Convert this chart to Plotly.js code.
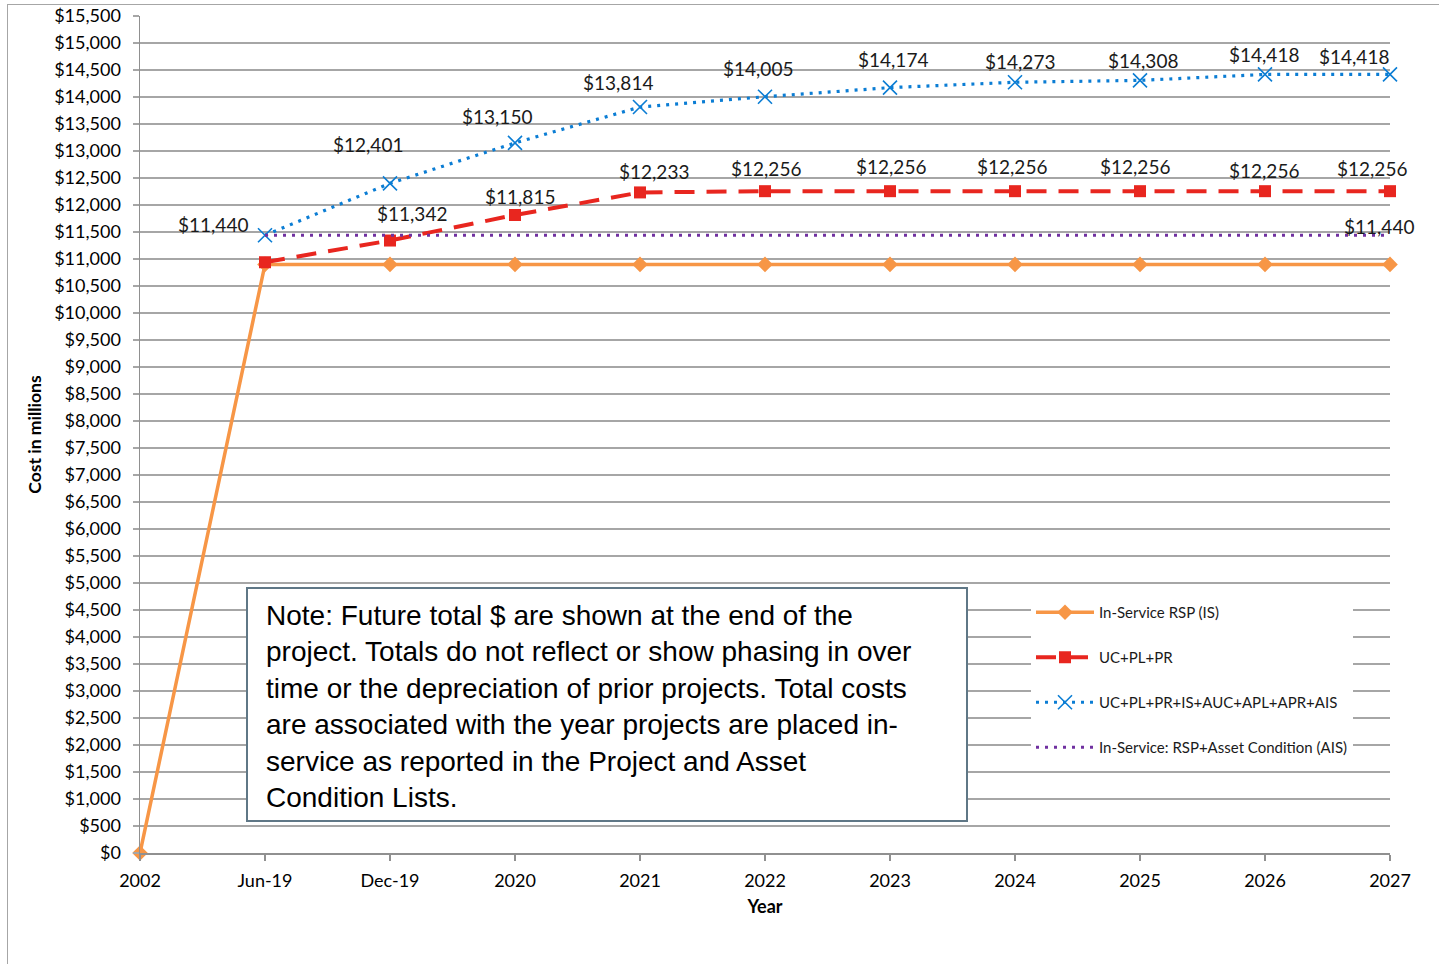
<!DOCTYPE html>
<html>
<head>
<meta charset="utf-8">
<script src="https://cdn.plot.ly/plotly-3.0.1.min.js"></script>
<style>
  html, body { margin:0; padding:0; background:#fff; }
  #chart { width:1439px; height:964px; position:relative; }
  #frame { position:absolute; left:7px; top:4px; width:1440px; height:970px; border-left:1.5px solid #a6a6a6; border-top:1.5px solid #a6a6a6; pointer-events:none; }
</style>
</head>
<body>
<div id="chart"></div>
<div id="frame"></div>
<script>
// ---- data ----
const categories = ["2002","Jun-19","Dec-19","2020","2021","2022","2023","2024","2025","2026","2027"];
const inServiceRSP = [0, 10900, 10900, 10900, 10900, 10900, 10900, 10900, 10900, 10900, 10900];
const ucPlPr = [null, 10940, 11342, 11815, 12233, 12256, 12256, 12256, 12256, 12256, 12256];
const ucPlPrAll = [null, 11440, 12401, 13150, 13814, 14005, 14174, 14273, 14308, 14418, 14418];
const inServiceAIS = [null, 11440, 11440, 11440, 11440, 11440, 11440, 11440, 11440, 11440, 11440];
const seriesNames = ["In-Service RSP (IS)", "UC+PL+PR", "UC+PL+PR+IS+AUC+APL+APR+AIS", "In-Service: RSP+Asset Condition (AIS)"];
const noteText = "Note: Future total $ are shown at the end of the<br>project. Totals do not reflect or show phasing in over<br>time or the depreciation of prior projects. Total costs<br>are associated with the year projects are placed in-<br>service as reported in the Project and Asset<br>Condition Lists.";

// which points carry a data label
const blueLabelIdx = [1,2,3,4,5,6,7,8,9,10];
const redLabelIdx = [2,3,4,5,6,7,8,9,10];
const purpleLabelIdx = [10];

// label offsets (px) [dx, dy] from the point to the label centre
const blueOff = {1:[-52,11],2:[-22,39],3:[-18,26],4:[-22,25],5:[-7,28],6:[3,28],7:[5,21],8:[3,20],9:[-1,20],10:[-36,18]};
const redOff = {2:[22,27],3:[5,18],4:[14,21],5:[1,23],6:[1,25],7:[-3,25],8:[-5,25],9:[-1,21],10:[-18,23]};
const purpleOff = {10:[-11,9]};

const fmt = v => "$" + v.toLocaleString("en-US");

const font = "Lato, 'Open Sans', sans-serif";

const traces = [
  {
    x: categories, y: inServiceRSP, name: seriesNames[0], type: "scatter", mode: "lines+markers",
    line: {color: "#f79646", width: 3.5},
    marker: {symbol: "diamond", size: 12, color: "#f79646"},
    cliponaxis: false, legendgroup: "a"
  },
  {
    x: categories, y: ucPlPr, name: seriesNames[1], type: "scatter", mode: "lines+markers",
    line: {color: "#e8261f", width: 4, dash: "20px,12px"},
    marker: {symbol: "square", size: 12, color: "#e8261f"},
    cliponaxis: false, legendgroup: "b"
  },
  {
    x: categories, y: ucPlPrAll, name: seriesNames[2], type: "scatter", mode: "lines+markers",
    line: {color: "#0b7dd4", width: 3.2, dash: "3px,6px"},
    marker: {symbol: "x-thin-open", size: 14, color: "#0b7dd4", line: {color: "#0b7dd4", width: 1.6}},
    cliponaxis: false, legendgroup: "c"
  },
  {
    x: categories, y: inServiceAIS, name: seriesNames[3], type: "scatter", mode: "lines",
    line: {color: "#7030a0", width: 3.2, dash: "3px,6px"},
    cliponaxis: false, legendgroup: "d"
  }
];

const annotations = [];
function addLabels(idx, arr, off) {
  idx.forEach(i => {
    annotations.push({
      x: i, y: arr[i], xref: "x", yref: "y",
      text: fmt(arr[i]), showarrow: false,
      xanchor: "center", yanchor: "middle",
      xshift: off[i][0], yshift: off[i][1],
      font: {family: font, size: 19, color: "#1a1a1a"}
    });
  });
}
addLabels(blueLabelIdx, ucPlPrAll, blueOff);
addLabels(redLabelIdx, ucPlPr, redOff);
addLabels(purpleLabelIdx, inServiceAIS, purpleOff);

// note text
annotations.push({
  xref: "paper", yref: "paper", x: (264-140)/1250, y: (853-598)/837,
  xanchor: "left", yanchor: "top", showarrow: false, align: "left",
  text: noteText,
  font: {family: "'Liberation Sans', Arial, sans-serif", size: 28, color: "#000"}
});

const shapes = [{
  type: "rect", xref: "paper", yref: "paper", layer: "above",
  x0: (247-140)/1250, x1: (967-140)/1250, y0: (853-821)/837, y1: (853-588)/837,
  line: {color: "#5f7786", width: 2}, fillcolor: "#ffffff"
}];

const layout = {
  width: 1439, height: 964,
  margin: {l: 140, r: 49, t: 16, b: 111},
  paper_bgcolor: "#fff", plot_bgcolor: "#fff",
  font: {family: font, size: 18, color: "#000"},
  showlegend: true,
  legend: {
    x: (1031-140)/1250, y: (853-596)/837, xanchor: "left", yanchor: "top",
    bgcolor: "#ffffff", borderwidth: 0,
    font: {family: font, size: 15, color: "#1a1a1a"},
    itemwidth: 58, tracegroupgap: 22.5, traceorder: "grouped"
  },
  xaxis: {
    type: "category", range: [0, 10],
    showgrid: false, showline: true, linecolor: "#909090", linewidth: 1.5,
    ticks: "outside", ticklen: 6, tickcolor: "#909090", tickwidth: 1.5,
    ticklabelstandoff: 5,
    tickfont: {family: font, size: 18, color: "#000"},
    title: {text: "<b>Year</b>", font: {family: font, size: 18, color: "#000"}, standoff: 10},
    zeroline: false, fixedrange: true
  },
  yaxis: {
    range: [0, 15500], dtick: 500, tick0: 0,
    tickprefix: "$", tickformat: ",d", separatethousands: true,
    showgrid: true, gridcolor: "#a6a6a6", gridwidth: 1.5,
    showline: true, linecolor: "#909090", linewidth: 1.5,
    ticks: "outside", ticklen: 6, tickcolor: "#a6a6a6", tickwidth: 1.5,
    ticklabelstandoff: 8,
    tickfont: {family: font, size: 18, color: "#000"},
    title: {text: "<b>Cost in millions</b>", font: {family: font, size: 17.5, color: "#000"}, standoff: 8},
    zeroline: false, fixedrange: true
  },
  shapes: shapes,
  annotations: annotations
};

Plotly.newPlot("chart", traces, layout, {displayModeBar: false, staticPlot: true});
</script>
</body>
</html>
